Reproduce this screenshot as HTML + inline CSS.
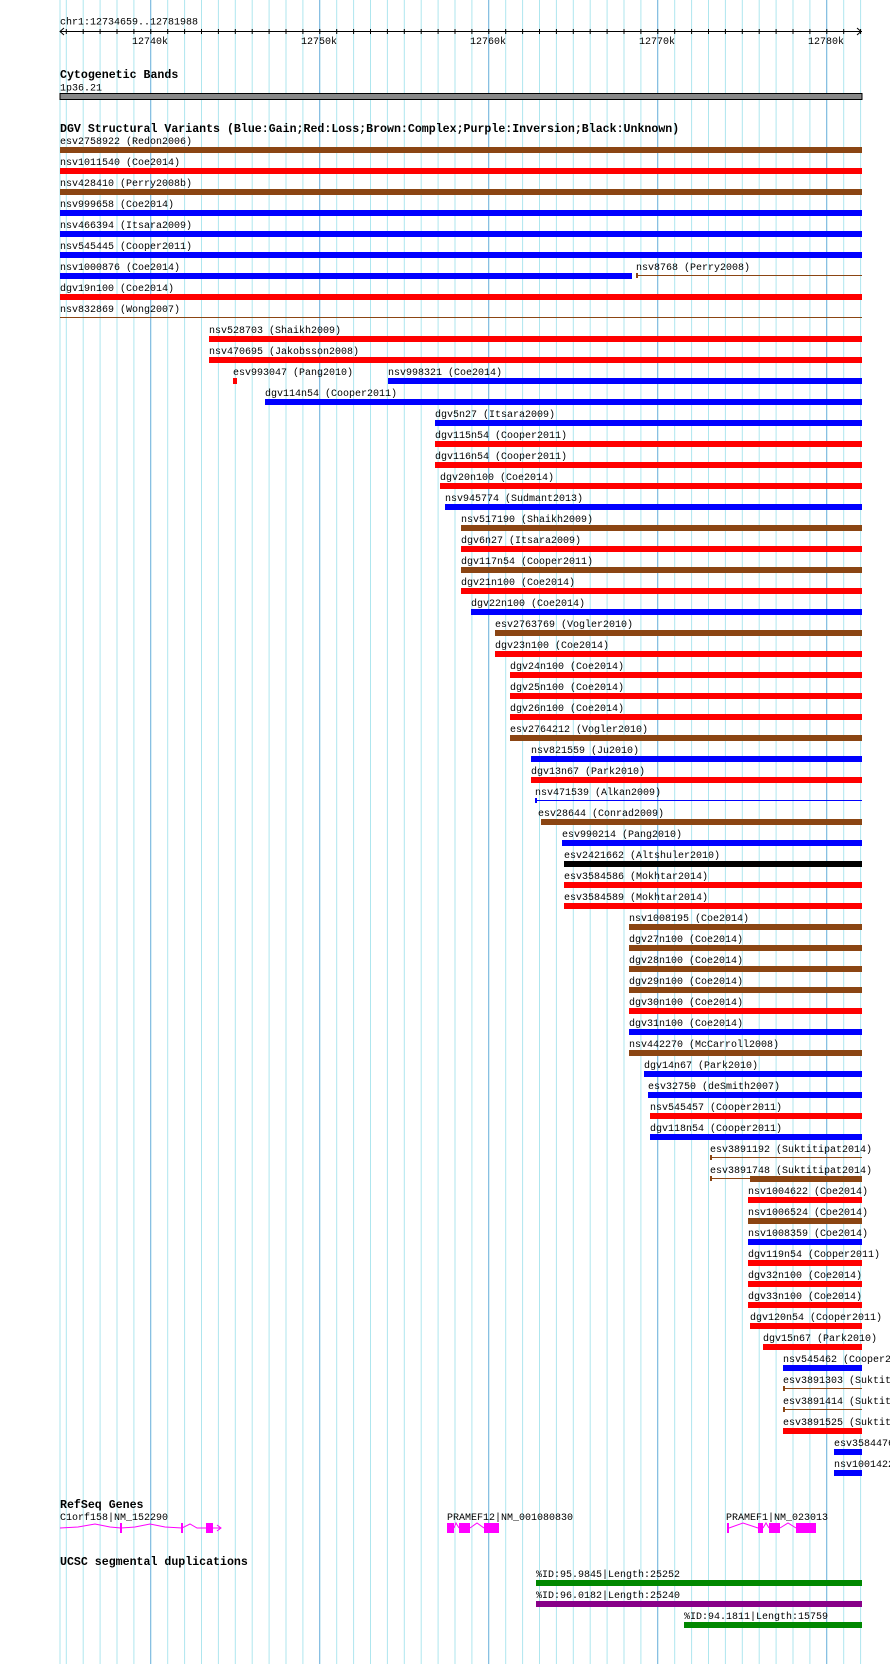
<!DOCTYPE html>
<html><head><meta charset="utf-8"><style>
html,body{margin:0;padding:0;background:#fff;width:890px;height:1664px;overflow:hidden}
svg{display:block}
text{font-family:"Liberation Mono",monospace;font-size:10px;fill:#000}
.b{font-weight:bold;font-size:11.6px}
</style></head><body>
<svg width="890" height="1664" viewBox="0 0 890 1664" xmlns="http://www.w3.org/2000/svg">
<defs>
<pattern id="g" patternUnits="userSpaceOnUse" x="150.3" y="0" width="16.9" height="10"><rect x="0" y="0" width="1" height="10" fill="#aee6ee"/></pattern>
<pattern id="t" patternUnits="userSpaceOnUse" x="150.3" y="29" width="16.9" height="6"><rect x="0" y="0" width="1" height="6" fill="#000"/></pattern>
</defs>
<rect x="60" y="0" width="802" height="1664" fill="url(#g)"/>
<rect x="59.5" y="0" width="1" height="1664" fill="#aee6ee"/>
<g fill="#88bfe2">
<rect x="150" y="0" width="1.2" height="1664"/><rect x="319" y="0" width="1.2" height="1664"/><rect x="488" y="0" width="1.2" height="1664"/><rect x="657" y="0" width="1.2" height="1664"/><rect x="826" y="0" width="1.2" height="1664"/>
</g>
<!-- axis -->
<text x="60" y="24.5">chr1:12734659..12781988</text>
<rect x="60" y="31" width="802" height="1" fill="#000"/>
<rect x="65" y="29" width="797" height="5" fill="url(#t)"/>
<path d="M64,28 L60,31.5 L64,35 M857,28 L861,31.5 L857,35" stroke="#000" fill="none"/>
<text x="132" y="44">12740k</text><text x="301" y="44">12750k</text><text x="470" y="44">12760k</text><text x="639" y="44">12770k</text><text x="808" y="44">12780k</text>
<!-- cytoband -->
<text class="b" x="60" y="78">Cytogenetic Bands</text>
<text x="60" y="90.5">1p36.21</text>
<rect x="60" y="93.5" width="802" height="6" fill="#888" stroke="#000" stroke-width="1"/>
<text class="b" x="60" y="132">DGV Structural Variants (Blue:Gain;Red:Loss;Brown:Complex;Purple:Inversion;Black:Unknown)</text>
<g>
<text x="60" y="144">esv2758922 (Redon2006)</text><rect x="60" y="147" width="802" height="6" fill="#8b4513"/>
<text x="60" y="165">nsv1011540 (Coe2014)</text><rect x="60" y="168" width="802" height="6" fill="#f00"/>
<text x="60" y="186">nsv428410 (Perry2008b)</text><rect x="60" y="189" width="802" height="6" fill="#8b4513"/>
<text x="60" y="207">nsv999658 (Coe2014)</text><rect x="60" y="210" width="802" height="6" fill="#00f"/>
<text x="60" y="228">nsv466394 (Itsara2009)</text><rect x="60" y="231" width="802" height="6" fill="#00f"/>
<text x="60" y="249">nsv545445 (Cooper2011)</text><rect x="60" y="252" width="802" height="6" fill="#00f"/>
<text x="60" y="270">nsv1000876 (Coe2014)</text><rect x="60" y="273" width="572" height="6" fill="#00f"/>
<text x="636" y="270">nsv8768 (Perry2008)</text><rect x="637" y="275" width="225" height="1" fill="#8b4513"/><rect x="636" y="273" width="2" height="5" fill="#8b4513"/>
<text x="60" y="291">dgv19n100 (Coe2014)</text><rect x="60" y="294" width="802" height="6" fill="#f00"/>
<text x="60" y="312">nsv832869 (Wong2007)</text><rect x="60" y="317" width="802" height="1" fill="#8b4513"/>
<text x="209" y="333">nsv528703 (Shaikh2009)</text><rect x="209" y="336" width="653" height="6" fill="#f00"/>
<text x="209" y="354">nsv470695 (Jakobsson2008)</text><rect x="209" y="357" width="653" height="6" fill="#f00"/>
<text x="233" y="375">esv993047 (Pang2010)</text><rect x="233" y="378" width="4" height="6" fill="#f00"/>
<text x="388" y="375">nsv998321 (Coe2014)</text><rect x="388" y="378" width="474" height="6" fill="#00f"/>
<text x="265" y="396">dgv114n54 (Cooper2011)</text><rect x="265" y="399" width="597" height="6" fill="#00f"/>
<text x="435" y="417">dgv5n27 (Itsara2009)</text><rect x="435" y="420" width="427" height="6" fill="#00f"/>
<text x="435" y="438">dgv115n54 (Cooper2011)</text><rect x="435" y="441" width="427" height="6" fill="#f00"/>
<text x="435" y="459">dgv116n54 (Cooper2011)</text><rect x="435" y="462" width="427" height="6" fill="#f00"/>
<text x="440" y="480">dgv20n100 (Coe2014)</text><rect x="440" y="483" width="422" height="6" fill="#f00"/>
<text x="445" y="501">nsv945774 (Sudmant2013)</text><rect x="445" y="504" width="417" height="6" fill="#00f"/>
<text x="461" y="522">nsv517190 (Shaikh2009)</text><rect x="461" y="525" width="401" height="6" fill="#8b4513"/>
<text x="461" y="543">dgv6n27 (Itsara2009)</text><rect x="461" y="546" width="401" height="6" fill="#f00"/>
<text x="461" y="564">dgv117n54 (Cooper2011)</text><rect x="461" y="567" width="401" height="6" fill="#8b4513"/>
<text x="461" y="585">dgv21n100 (Coe2014)</text><rect x="461" y="588" width="401" height="6" fill="#f00"/>
<text x="471" y="606">dgv22n100 (Coe2014)</text><rect x="471" y="609" width="391" height="6" fill="#00f"/>
<text x="495" y="627">esv2763769 (Vogler2010)</text><rect x="495" y="630" width="367" height="6" fill="#8b4513"/>
<text x="495" y="648">dgv23n100 (Coe2014)</text><rect x="495" y="651" width="367" height="6" fill="#f00"/>
<text x="510" y="669">dgv24n100 (Coe2014)</text><rect x="510" y="672" width="352" height="6" fill="#f00"/>
<text x="510" y="690">dgv25n100 (Coe2014)</text><rect x="510" y="693" width="352" height="6" fill="#f00"/>
<text x="510" y="711">dgv26n100 (Coe2014)</text><rect x="510" y="714" width="352" height="6" fill="#f00"/>
<text x="510" y="732">esv2764212 (Vogler2010)</text><rect x="510" y="735" width="352" height="6" fill="#8b4513"/>
<text x="531" y="753">nsv821559 (Ju2010)</text><rect x="531" y="756" width="331" height="6" fill="#00f"/>
<text x="531" y="774">dgv13n67 (Park2010)</text><rect x="531" y="777" width="331" height="6" fill="#f00"/>
<text x="535" y="795">nsv471539 (Alkan2009)</text><rect x="535" y="800" width="327" height="1" fill="#00f"/><rect x="535" y="798" width="2" height="5" fill="#00f"/>
<text x="538" y="816">esv28644 (Conrad2009)</text><rect x="541" y="819" width="321" height="6" fill="#8b4513"/>
<text x="562" y="837">esv990214 (Pang2010)</text><rect x="562" y="840" width="300" height="6" fill="#00f"/>
<text x="564" y="858">esv2421662 (Altshuler2010)</text><rect x="564" y="861" width="298" height="6" fill="#000"/>
<text x="564" y="879">esv3584586 (Mokhtar2014)</text><rect x="564" y="882" width="298" height="6" fill="#f00"/>
<text x="564" y="900">esv3584589 (Mokhtar2014)</text><rect x="564" y="903" width="298" height="6" fill="#f00"/>
<text x="629" y="921">nsv1008195 (Coe2014)</text><rect x="629" y="924" width="233" height="6" fill="#8b4513"/>
<text x="629" y="942">dgv27n100 (Coe2014)</text><rect x="629" y="945" width="233" height="6" fill="#8b4513"/>
<text x="629" y="963">dgv28n100 (Coe2014)</text><rect x="629" y="966" width="233" height="6" fill="#8b4513"/>
<text x="629" y="984">dgv29n100 (Coe2014)</text><rect x="629" y="987" width="233" height="6" fill="#8b4513"/>
<text x="629" y="1005">dgv30n100 (Coe2014)</text><rect x="629" y="1008" width="233" height="6" fill="#f00"/>
<text x="629" y="1026">dgv31n100 (Coe2014)</text><rect x="629" y="1029" width="233" height="6" fill="#00f"/>
<text x="629" y="1047">nsv442270 (McCarroll2008)</text><rect x="629" y="1050" width="233" height="6" fill="#8b4513"/>
<text x="644" y="1068">dgv14n67 (Park2010)</text><rect x="644" y="1071" width="218" height="6" fill="#00f"/>
<text x="648" y="1089">esv32750 (deSmith2007)</text><rect x="648" y="1092" width="214" height="6" fill="#00f"/>
<text x="650" y="1110">nsv545457 (Cooper2011)</text><rect x="650" y="1113" width="212" height="6" fill="#f00"/>
<text x="650" y="1131">dgv118n54 (Cooper2011)</text><rect x="650" y="1134" width="212" height="6" fill="#00f"/>
<text x="710" y="1152">esv3891192 (Suktitipat2014)</text><rect x="711" y="1157" width="151" height="1" fill="#8b4513"/><rect x="710" y="1155" width="2" height="5" fill="#8b4513"/>
<text x="710" y="1173">esv3891748 (Suktitipat2014)</text><rect x="711" y="1178" width="40" height="1" fill="#8b4513"/><rect x="710" y="1176" width="2" height="5" fill="#8b4513"/><rect x="750" y="1176" width="112" height="6" fill="#8b4513"/>
<text x="748" y="1194">nsv1004622 (Coe2014)</text><rect x="748" y="1197" width="114" height="6" fill="#f00"/>
<text x="748" y="1215">nsv1006524 (Coe2014)</text><rect x="748" y="1218" width="114" height="6" fill="#8b4513"/>
<text x="748" y="1236">nsv1008359 (Coe2014)</text><rect x="748" y="1239" width="114" height="6" fill="#00f"/>
<text x="748" y="1257">dgv119n54 (Cooper2011)</text><rect x="748" y="1260" width="114" height="6" fill="#f00"/>
<text x="748" y="1278">dgv32n100 (Coe2014)</text><rect x="748" y="1281" width="114" height="6" fill="#f00"/>
<text x="748" y="1299">dgv33n100 (Coe2014)</text><rect x="748" y="1302" width="114" height="6" fill="#f00"/>
<text x="750" y="1320">dgv120n54 (Cooper2011)</text><rect x="750" y="1323" width="112" height="6" fill="#f00"/>
<text x="763" y="1341">dgv15n67 (Park2010)</text><rect x="763" y="1344" width="99" height="6" fill="#f00"/>
<text x="783" y="1362">nsv545462 (Cooper2011)</text><rect x="783" y="1365" width="79" height="6" fill="#00f"/>
<text x="783" y="1383">esv3891303 (Suktitipat2014)</text><rect x="784" y="1388" width="78" height="1" fill="#8b4513"/><rect x="783" y="1386" width="2" height="5" fill="#8b4513"/>
<text x="783" y="1404">esv3891414 (Suktitipat2014)</text><rect x="784" y="1409" width="78" height="1" fill="#8b4513"/><rect x="783" y="1407" width="2" height="5" fill="#8b4513"/>
<text x="783" y="1425">esv3891525 (Suktitipat2014)</text><rect x="783" y="1428" width="79" height="6" fill="#f00"/>
<text x="834" y="1446">esv3584476 (Mokhtar2014)</text><rect x="834" y="1449" width="28" height="6" fill="#00f"/>
<text x="834" y="1467">nsv1001422 (Coe2014)</text><rect x="834" y="1470" width="28" height="6" fill="#00f"/>
</g>
<!-- RefSeq -->
<text class="b" x="60" y="1508">RefSeq Genes</text>
<text x="60" y="1520">C1orf158|NM_152290</text>
<g fill="#f0f" stroke="none">
<polyline points="60,1528 78,1527 95,1524 110,1527 121,1528 135,1527 150,1524 165,1527 182,1528 190,1524 197,1528 206,1528" fill="none" stroke="#f0f"/>
<rect x="120" y="1523" width="2" height="10"/><rect x="181" y="1523" width="2" height="10"/><rect x="206" y="1523" width="7" height="10"/>
<path d="M213,1528 L221,1528 M217,1525 L221,1528 L217,1531" stroke="#f0f" fill="none"/>
<text x="447" y="1520">PRAMEF12|NM_001080830</text>
<rect x="447" y="1523" width="7" height="10"/><rect x="459" y="1523" width="11" height="10"/><rect x="484" y="1523" width="15" height="10"/>
<polyline points="454,1528 456,1523 459,1528 M0,0" fill="none" stroke="#f0f"/>
<polyline points="470,1528 477,1523 484,1528" fill="none" stroke="#f0f"/>
<text x="726" y="1520">PRAMEF1|NM_023013</text>
<rect x="727" y="1523" width="2" height="10"/><rect x="758" y="1523" width="5" height="10"/><rect x="769" y="1523" width="11" height="10"/><rect x="796" y="1523" width="20" height="10"/>
<polyline points="729,1528 743,1523 758,1528" fill="none" stroke="#f0f"/>
<polyline points="763,1528 766,1523 769,1528" fill="none" stroke="#f0f"/>
<polyline points="780,1528 788,1523 796,1528" fill="none" stroke="#f0f"/>
</g>
<text class="b" x="60" y="1565">UCSC segmental duplications</text>
<text x="536" y="1577">%ID:95.9845|Length:25252</text><rect x="536" y="1580" width="326" height="6" fill="#080"/>
<text x="536" y="1598">%ID:96.0182|Length:25240</text><rect x="536" y="1601" width="326" height="6" fill="#808"/>
<text x="684" y="1619">%ID:94.1811|Length:15759</text><rect x="684" y="1622" width="178" height="6" fill="#080"/>
</svg>
</body></html>
